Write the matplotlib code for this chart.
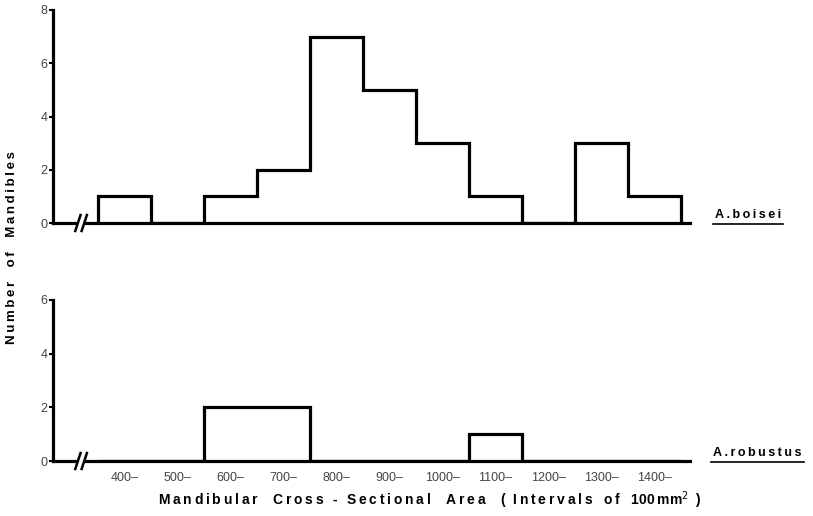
import matplotlib
matplotlib.use('Agg')
import matplotlib.pyplot as plt
from matplotlib.lines import Line2D

plt.rcParams['font.family'] = ['Liberation Sans', 'DejaVu Sans']

# histogram bins (intervals of 100 mm^2)
bin_edges = [400, 500, 600, 700, 800, 900, 1000, 1100, 1200, 1300, 1400, 1500]
bin_labels = ['400–', '500–', '600–', '700–', '800–', '900–', '1000–',
              '1100–', '1200–', '1300–', '1400–']
boisei_counts = [1, 0, 1, 2, 7, 5, 3, 1, 0, 3, 1]
robustus_counts = [0, 0, 2, 2, 0, 0, 0, 1, 0, 0, 0]
boisei_yticks = [0, 2, 4, 6, 8]
robustus_yticks = [0, 2, 4, 6]

W, H = 813, 516
LW = 2.3


def spaced(s):
    # letter-spaced text like the old typeset figure
    return '\u2009'.join(s)


def style_axis(ax, yticks):
    ax.set_xlim(315, 1517)
    ax.set_ylim(0, yticks[-1])
    ax.set_yticks(yticks)
    ax.spines['top'].set_visible(False)
    ax.spines['right'].set_visible(False)
    ax.spines['left'].set_linewidth(LW)
    ax.spines['bottom'].set_linewidth(LW)
    ax.tick_params(axis='y', length=3, width=1.5, pad=1, labelsize=9,
                   labelcolor='#444444')
    ax.patch.set_alpha(0)


def axis_break(ax, x):
    # "//" break on the x axis near the origin
    h_px = ax.get_position().height * H
    dy = 8 / h_px
    trans = ax.get_xaxis_transform()
    ax.add_patch(plt.Rectangle((x - 7, -dy / 2), 14, dy, transform=trans,
                               facecolor='white', edgecolor='none',
                               clip_on=False, zorder=5))
    for off in (-6, 6):
        ax.add_line(Line2D([x + off - 5, x + off + 5], [-dy, dy], transform=trans,
                           color='black', lw=1.8, clip_on=False, zorder=6))


fig = plt.figure(figsize=(W / 100, H / 100), dpi=100)
ax_top = fig.add_axes([53 / W, 1 - 223 / H, (690 - 53) / W, 213 / H])
ax_bot = fig.add_axes([53 / W, 1 - 461 / H, (690 - 53) / W, 161 / H])

ax_top.stairs(boisei_counts, bin_edges, baseline=0, color='black', lw=LW)
ax_bot.stairs(robustus_counts, bin_edges, baseline=0, color='black', lw=LW)

style_axis(ax_top, boisei_yticks)
style_axis(ax_bot, robustus_yticks)

ax_top.set_xticks([])
centers = [(a + b) / 2 for a, b in zip(bin_edges[:-1], bin_edges[1:])]
ax_bot.set_xticks(centers)
ax_bot.set_xticklabels(bin_labels)
ax_bot.tick_params(axis='x', length=0, pad=8, labelsize=9, labelcolor='#444444')

axis_break(ax_top, 368)
axis_break(ax_bot, 368)

fig.text(12 / W, 1 - 248 / H,
         '    '.join(spaced(w) for w in ['Number', 'of', 'Mandibles']),
         rotation=90, ha='center', va='center', fontsize=9.5, fontweight='bold')

xlabel = ('    '.join(spaced(w) for w in ['Mandibular', 'Cross - Sectional', 'Area'])
          + '    (  ' + spaced('Intervals') + '   ' + spaced('of')
          + '   100\u2009mm$^{2}$  )')
fig.text(430 / W, 1 - 500 / H, xlabel, ha='center', va='center',
         fontsize=10, fontweight='bold')

species = [(ax_top, 'A.boisei', 223, 715), (ax_bot, 'A.robustus', 461, 713)]
labels = []
for ax, name, ypx, xpx in species:
    t = fig.text(xpx / W, 1 - (ypx - 2) / H, spaced(name), ha='left', va='bottom',
                 fontsize=9, fontweight='bold')
    labels.append(t)

fig.canvas.draw()
renderer = fig.canvas.get_renderer()
for t in labels:
    bb = t.get_window_extent(renderer)
    y = bb.y0 - 3
    fig.add_artist(Line2D([(bb.x0 - 2) / W, (bb.x1 + 2) / W], [y / H, y / H],
                          transform=fig.transFigure, color='black', lw=1.2))

fig.savefig('out.png', dpi=100)
